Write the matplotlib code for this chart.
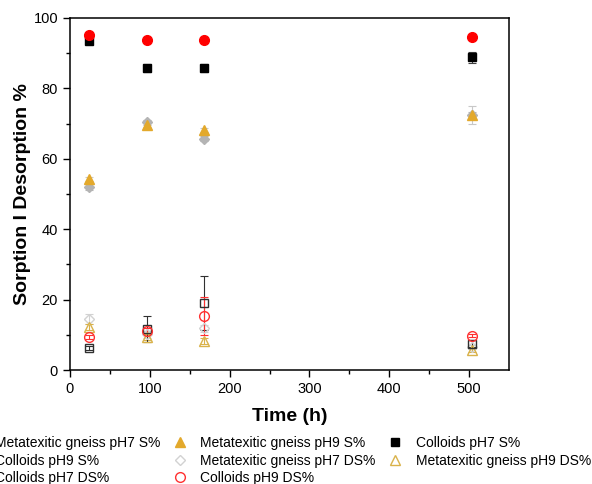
import numpy as np
import matplotlib
matplotlib.use("Agg")
from matplotlib import pyplot as plt

plt.rcParams['font.family'] = ['Liberation Sans', 'DejaVu Sans']

time_h = [24, 96, 168, 504]

# sorption
mg_ph7_s = [52.0, 70.3, 65.7, 72.4]
mg_ph7_s_err = [0.8, 0.8, 0.8, 1.0]
mg_ph9_s = [54.3, 69.6, 68.2, 72.4]
mg_ph9_s_err = [0.5, 0.5, 0.5, 2.5]
col_ph7_s = [93.3, 85.8, 85.8, 88.8]
col_ph7_s_err = [0.8, 1.2, 1.2, 1.6]
col_ph9_s = [95.2, 93.8, 93.6, 94.7]
col_ph9_s_err = [0.3, 0.3, 0.3, 0.3]

# desorption
mg_ph7_ds = [14.5, 10.2, 11.9, 6.5]
mg_ph7_ds_err = [1.4, 1.0, 1.0, 0.5]
mg_ph9_ds = [12.3, 9.4, 8.2, 5.7]
mg_ph9_ds_err = [0.8, 0.8, 0.8, 0.5]
col_ph7_ds = [6.2, 11.6, 19.0, 7.4]
col_ph7_ds_err = [0.5, 3.6, 7.7, 1.0]
col_ph9_ds = [9.4, 11.2, 15.4, 9.8]
col_ph9_ds_err = [0.5, 0.8, 5.4, 0.5]

fig = plt.figure(figsize=(5.92, 4.84), dpi=100)
ax = fig.add_axes([0.118, 0.2355, 0.742, 0.7275])

ms = 6
kw = dict(ls='none', capsize=3, elinewidth=0.8, capthick=0.8)

h_col_ph7_s = ax.errorbar(time_h, col_ph7_s, yerr=col_ph7_s_err, marker='s', ms=ms,
                          color='black', ecolor='#404040', **kw)
h_col_ph9_s = ax.errorbar(time_h, col_ph9_s, yerr=col_ph9_s_err, marker='o', ms=ms + 1,
                          color='#ff0000', ecolor='#ff0000', **kw)
h_mg_ph7_s = ax.errorbar(time_h, mg_ph7_s, yerr=mg_ph7_s_err, marker='D', ms=ms - 0.5,
                         color='#b4b4b4', ecolor='#b4b4b4', **kw)
h_mg_ph9_s = ax.errorbar(time_h, mg_ph9_s, yerr=mg_ph9_s_err, marker='^', ms=ms + 1,
                         color='#e3a92c', ecolor='#c8c8c8', **kw)

h_mg_ph7_ds = ax.errorbar(time_h, mg_ph7_ds, yerr=mg_ph7_ds_err, marker='D', ms=ms - 0.5,
                          mfc='none', mec='#d2d2d2', color='#d2d2d2', **kw)
h_mg_ph9_ds = ax.errorbar(time_h, mg_ph9_ds, yerr=mg_ph9_ds_err, marker='^', ms=ms + 1,
                          mfc='none', mec='#d9b24a', color='#d9b24a', **kw)
h_col_ph7_ds = ax.errorbar(time_h, col_ph7_ds, yerr=col_ph7_ds_err, marker='s', ms=ms,
                           mfc='none', mec='#303030', color='#303030', **kw)
h_col_ph9_ds = ax.errorbar(time_h, col_ph9_ds, yerr=col_ph9_ds_err, marker='o', ms=ms + 1,
                           mfc='none', mec='#ff3030', color='#ff3030', **kw)

ax.set_xlim(0, 550)
ax.set_ylim(0, 100)
ax.set_xticks([0, 100, 200, 300, 400, 500])
ax.set_xticks([50, 150, 250, 350, 450], minor=True)
ax.set_yticks([0, 20, 40, 60, 80, 100])
ax.set_yticks([10, 30, 50, 70, 90], minor=True)
ax.tick_params(which='major', direction='out', length=5, width=1, labelsize=10.5)
ax.tick_params(which='minor', direction='out', length=3, width=1)
for s in ax.spines.values():
    s.set_linewidth(1.1)

ax.set_xlabel("Time (h)", fontsize=14, fontweight='bold', labelpad=9)
ax.set_ylabel("Sorption I Desorption %", fontsize=14, fontweight='bold', labelpad=2)

handles = [h_mg_ph7_s, h_col_ph9_s, h_col_ph7_ds,
           h_mg_ph9_s, h_mg_ph7_ds, h_col_ph9_ds,
           h_col_ph7_s, h_mg_ph9_ds]
labels = ["Metatexitic gneiss pH7 S%", "Colloids pH9 S%", "Colloids pH7 DS%",
          "Metatexitic gneiss pH9 S%", "Metatexitic gneiss pH7 DS%", "Colloids pH9 DS%",
          "Colloids pH7 S%", "Metatexitic gneiss pH9 DS%"]
handles = [h[0] for h in handles]
fig.legend(handles, labels, loc='upper left', bbox_to_anchor=(-0.058, 0.099), ncol=3,
           frameon=False, fontsize=10, handlelength=1.2, handletextpad=0.9,
           columnspacing=0.8, labelspacing=0.25, borderaxespad=0, borderpad=0)

fig.savefig("out.png", dpi=100)
